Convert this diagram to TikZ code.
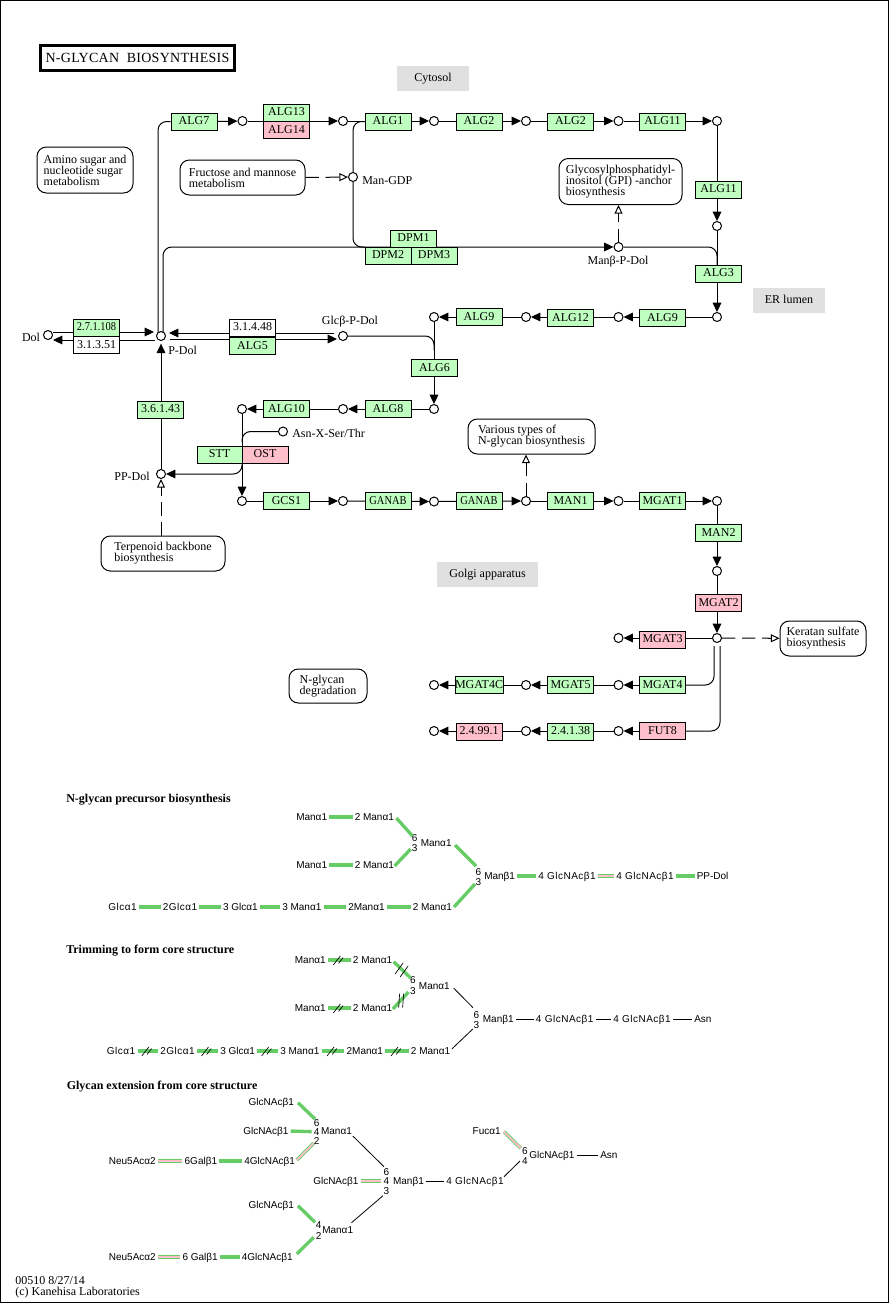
\documentclass[tikz,border=0pt]{standalone}
\usepackage{fontspec}
\setmainfont{Liberation Serif}
\newfontfamily\gfont{Liberation Sans}
\newfontfamily\narrowf[FakeStretch=0.87]{Liberation Serif}
\usetikzlibrary{arrows.meta,backgrounds}
\definecolor{enzgreen}{HTML}{BFFFBF}
\definecolor{enzpink}{HTML}{FFBFCB}
\definecolor{glygreen}{HTML}{66CC66}
\definecolor{glypink}{HTML}{FFBFCB}
\definecolor{compgray}{HTML}{E0E0E0}
\tikzset{
  base/.style={font=\fontsize{9}{8.25}\selectfont},
  enzbox/.style={base,draw=black,line width=.75pt,minimum width=34.5pt,minimum height=12.75pt,inner sep=0pt,text height=5pt,text depth=0pt},
  eg/.style={enzbox,fill=enzgreen},
  ep/.style={enzbox,fill=enzpink},
  ew/.style={enzbox,fill=white},
  tight/.style={font=\narrowf\fontsize{9}{8.25}\selectfont},
  cpd/.style={circle,draw=black,fill=white,line width=.75pt,minimum size=6.75pt,inner sep=0pt},
  mapbox/.style={base,draw=black,fill=white,line width=.75pt,rounded corners=7pt,align=left,inner sep=0pt},
  comp/.style={base,fill=compgray,inner sep=0pt,text height=5pt,text depth=0pt},
  lbl/.style={base,inner sep=0pt},
  conn/.style={draw=black,line width=.75pt},
  arr/.style={conn,-{Triangle[length=7pt,width=6.5pt]}},
  elbow/.style={rounded corners=6.5pt},
  dsh/.style={conn,dash pattern=on 10pt off 5pt,-{Triangle[open,fill=white,length=6.5pt,width=6pt]}},
  gt/.style={font=\gfont\fontsize{7.5}{8}\selectfont,inner sep=0pt,text height=5.5pt,text depth=0.5pt},
  gl/.style={gt,anchor=west},
  glw/.style={gl,font=\gfont\fontsize{7.5}{8}\selectfont\addfontfeatures{LetterSpace=5}},
  gh/.style={gt,font=\bfseries\fontsize{9}{9}\selectfont,anchor=west},
  gg/.style={draw=glygreen,line width=2.5pt,shorten <=1.5pt,shorten >=1.5pt},
  gd/.style={draw=glygreen,line width=2.5pt},
  gp/.style={draw=glygreen,line width=.6pt,double=glypink,double distance=1.4pt,shorten <=1.5pt,shorten >=1.5pt},
  gpd/.style={draw=glygreen,line width=.6pt,double=glypink,double distance=1.4pt},
  gb/.style={draw=black,line width=.75pt,shorten <=1.5pt,shorten >=1.5pt},
  gbd/.style={draw=black,line width=.6pt},
  pics/cutmark/.style={code={\draw[black,line width=.5pt] (-6,5)--(1,-4) (-2,5)--(5,-4);}},
  pics/cutmarkb/.style={code={\draw[black,line width=.5pt] (-2,7)--(-1,-7) (2,7)--(3,-7);}},
  pics/cutmarkc/.style={code={\draw[black,line width=.5pt] (-7,4)--(1,-7) (-2,7)--(6,-4);}},
}
\begin{document}
\begin{tikzpicture}[x=0.75pt,y=-0.75pt]
\useasboundingbox (0,0) rectangle (889,1303);
% title
\node[base,draw=black,line width=2.25pt,minimum width=145.5pt,minimum height=18.75pt,inner sep=0pt,font=\fontsize{10.5}{11}\selectfont\addfontfeatures{LetterSpace=2}] (title) at (137.5,58) {N-GLYCAN\ \ BIOSYNTHESIS};
% compartments
\node[comp,minimum width=54pt,minimum height=18.75pt] (cyt) at (433,78.5) {Cytosol};
\node[comp,minimum width=54pt,minimum height=18.75pt] (erl) at (789,300.5) {ER lumen};
\node[comp,minimum width=75.75pt,minimum height=18.75pt] (gol) at (487.5,574.5) {Golgi apparatus};
% pathway maps
\node[mapbox,minimum width=72pt,minimum height=34.5pt] (amino) at (85,170) {Amino sugar and\\nucleotide sugar\\metabolism};
\node[mapbox,minimum width=93.75pt,minimum height=26.25pt] (fruct) at (242.5,177.5) {Fructose and mannose\\metabolism};
\node[mapbox,minimum width=92.25pt,minimum height=34.5pt] (gpi) at (620.5,181.5) {Glycosylphosphatidyl-\\inositol (GPI) -anchor\\biosynthesis};
\node[mapbox,minimum width=95.25pt,minimum height=26.25pt] (various) at (531.5,436.5) {Various types of\\N-glycan biosynthesis};
\node[mapbox,minimum width=93pt,minimum height=26.25pt] (terp) at (163,553.5) {Terpenoid backbone\\biosynthesis};
\node[mapbox,minimum width=64.5pt,minimum height=26.25pt] (kerat) at (823,638.5) {Keratan sulfate\\biosynthesis};
\node[mapbox,minimum width=58.5pt,minimum height=25.5pt] (degr) at (328,686) {N-glycan\\degradation};
% enzymes
\node[eg] (alg7) at (194,121.5) {ALG7};
\node[eg] (alg13) at (286.5,112.5) {ALG13};
\node[ep] (alg14) at (286.5,130) {ALG14};
\node[eg] (alg1) at (388,121.5) {ALG1};
\node[eg] (alg2a) at (479,121.5) {ALG2};
\node[eg] (alg2b) at (570.5,121.5) {ALG2};
\node[eg] (alg11a) at (662.5,121.5) {ALG11};
\node[eg] (alg11b) at (718.5,189.5) {ALG11};
\node[eg] (alg3) at (718.5,273.5) {ALG3};
\node[eg] (alg9a) at (662.5,318) {ALG9};
\node[eg] (alg12) at (570.5,318) {ALG12};
\node[eg] (alg9b) at (479,317) {ALG9};
\node[eg] (dpm1) at (413.5,238.5) {DPM1};
\node[eg] (dpm2) at (388,255.5) {DPM2};
\node[eg] (dpm3) at (434,255.5) {DPM3};
\node[eg,tight] (e27) at (96.5,327.5) {2.7.1.108};
\node[ew] (e31) at (96.5,345) {3.1.3.51};
\node[ew] (e314) at (252.5,327.5) {3.1.4.48};
\node[eg] (alg5) at (252.5,346) {ALG5};
\node[eg] (alg6) at (434.5,368) {ALG6};
\node[eg] (alg8) at (388,409) {ALG8};
\node[eg] (alg10) at (286.5,409) {ALG10};
\node[eg] (e36) at (160.5,409.5) {3.6.1.43};
\node[eg,minimum width=33.75pt] (stt) at (219.5,454.5) {STT};
\node[ep] (ost) at (265,454.5) {OST};
\node[eg] (gcs1) at (286.5,501) {GCS1};
\node[eg,tight] (ganaba) at (388,501) {GANAB};
\node[eg,tight] (ganabb) at (479,501) {GANAB};
\node[eg] (man1) at (570.5,501) {MAN1};
\node[eg] (mgat1) at (662.5,501) {MGAT1};
\node[eg] (man2) at (718.5,533) {MAN2};
\node[ep] (mgat2) at (718.5,603) {MGAT2};
\node[ep] (mgat3) at (662.5,639.5) {MGAT3};
\node[eg] (mgat4) at (662.5,685) {MGAT4};
\node[eg] (mgat5) at (570.5,685) {MGAT5};
\node[eg] (mgat4c) at (479,685) {MGAT4C};
\node[ep] (fut8) at (662.5,731) {FUT8};
\node[eg] (e2438) at (570.5,731.5) {2.4.1.38};
\node[ep] (e2499) at (479,731.5) {2.4.99.1};
% compounds
\foreach \n/\x/\y in {c1/242.5/121,c2/343/121,c3/434/121,c4/526/121,c5/618.5/121,c6/717/121,c7/717/226,c8/717/317,c9/618.5/317,c10/526/317,c11/434/317,c12/434/409,c13/343/409,c14/242/409,c15/242/501,c16/343/501,c17/434/501.5,c18/526/501,c19/618.5/501,c20/717/501,c21/717/571,c22/717/638,c23/618.5/638,c24/618.5/685,c25/526/685,c26/434/685,c27/618.5/731,c28/526/731,c29/434/731,man/353/177,manb/618.5/247,pdol/161/336,dol/48/335,glc/343/336,asn/283/431.5,ppdol/161/474}{\node[cpd] (\n) at (\x,\y) {};}
% compound labels
\node[lbl] (ldol) at (31,337) {Dol};
\node[lbl,anchor=west] (lman) at (362,181) {Man-GDP};
\node[lbl] (lmanb) at (618,262) {Manβ-P-Dol};
\node[lbl] (lglc) at (350,322) {Glcβ-P-Dol};
\node[lbl,anchor=west] (lpdol) at (168,350) {P-Dol};
\node[lbl] (lppdol) at (132,476) {PP-Dol};
\node[lbl,anchor=west] (lasn) at (292,433) {Asn-X-Ser/Thr};
% free ends
\coordinate (pa) at (158,332); \coordinate (pb) at (163,332);
\coordinate (manj) at (365,247);
\coordinate (alg3t) at (717,265);
\coordinate (dr1) at (53,332); \coordinate (dr2) at (154,332);
\coordinate (dl1) at (155,340); \coordinate (dl2) at (53,340);
\coordinate (gl1) at (334,333); \coordinate (gl2) at (169,333);
\coordinate (gr1) at (170,339); \coordinate (gr2) at (337,339);
\coordinate (glcj) at (434,350);
\coordinate (asnj) at (242,442);
\coordinate (ostj) at (242,463);
\coordinate (k1) at (714,646); \coordinate (k2) at (720,646);
\begin{scope}[on background layer]
\draw[arr] (alg7.east) -- (c1);
\draw[arr] (c1) -- (c2);
\draw[arr] (c2) -- (c3);
\draw[arr] (c3) -- (c4);
\draw[arr] (c4) -- (c5);
\draw[arr] (c5) -- (c6);
\draw[arr] (c6) -- (c7);
\draw[arr] (c7) -- (c8);
\draw[arr] (c8) -- (c9);
\draw[arr] (c9) -- (c10);
\draw[arr] (c10) -- (c11);
\draw[arr] (c11) -- (c12);
\draw[arr] (c12) -- (c13);
\draw[arr] (c13) -- (c14);
\draw[arr] (c14) -- (c15);
\draw[arr] (c15) -- (c16);
\draw[arr] (c16) -- (c17);
\draw[arr] (c17) -- (c18);
\draw[arr] (c18) -- (c19);
\draw[arr] (c19) -- (c20);
\draw[arr] (c20) -- (c21);
\draw[arr] (c21) -- (c22);
\draw[arr] (c22) -- (c23);
\draw[arr] (mgat4.west) -- (c24);
\draw[arr] (c24) -- (c25);
\draw[arr] (c25) -- (c26);
\draw[arr] (fut8.west) -- (c27);
\draw[arr] (c27) -- (c28);
\draw[arr] (c28) -- (c29);
\draw[conn,elbow] (k1) |- (mgat4.east);
\draw[conn,elbow] (k2) |- (fut8.east);
\draw[conn,elbow] (pa) |- (alg7.west);
\draw[arr,elbow] (pb) |- (manb);
\draw[conn,elbow] (alg1.west) -| (man.north);
\draw[conn,elbow] (man.south) |- (manj);
\draw[conn,elbow] (manb.east) -| (alg3t);
\draw[dsh] (fruct.east) -- (man);
\draw[dsh] (manb) -- (manb |- gpi.south);
\draw[dsh] (c18) -- (c18 |- various.south);
\draw[dsh] (ppdol |- terp.north) -- (ppdol);
\draw[dsh] (c22) -- (kerat);
\draw[arr] (dr1) -- (dr2);
\draw[arr] (dl1) -- (dl2);
\draw[arr] (gl1) -- (gl2);
\draw[arr] (gr1) -- (gr2);
\draw[conn,elbow] (glc.east) -| (glcj);
\draw[arr,shorten >=2pt] (ppdol) -- (pdol);
\draw[conn,elbow] (asn.west) -| (asnj);
\draw[arr,elbow] (ostj) |- (ppdol);
\end{scope}
% ---- glycan 1
\node[gh] (h1) at (66,799) {N-glycan precursor biosynthesis};
\node[gl] (a1) at (296,817) {Manα1};
\node[gl] (a2) at (354.5,817) {2 Manα1};
\node[gl] (a3) at (296,865) {Manα1};
\node[gl] (a4) at (354.5,865) {2 Manα1};
\node[gt] (a5) at (414.7,838) {6};
\node[gt] (a6) at (414.7,848) {3};
\node[gl] (a7) at (420.5,843) {Manα1};
\node[gt] (a8) at (478.5,872) {6};
\node[gt] (a9) at (478.5,882) {3};
\node[gl] (a10) at (484,876) {Manβ1};
\node[glw] (a11) at (538,876) {4 GlcNAcβ1};
\node[glw] (a12) at (616,876) {4 GlcNAcβ1};
\node[gl] (a13) at (696.5,876) {PP-Dol};
\node[glw] (a14) at (108,907) {Glcα1};
\node[glw] (a15) at (162.5,907) {2Glcα1};
\node[gl] (a16) at (222.8,907) {3 Glcα1};
\node[gl] (a17) at (282,907) {3 Manα1};
\node[gl] (a18) at (348,907) {2Manα1};
\node[gl] (a19) at (412.5,907) {2 Manα1};
\draw[gg] (a1.east) -- (a2.west);
\draw[gg] (a3.east) -- (a4.west);
\draw[gg] (a10.east) -- (a11.west);
\draw[gp] (a11.east) -- (a12.west);
\draw[gg] (a12.east) -- (a13.west);
\draw[gg] (a14.east) -- (a15.west);
\draw[gg] (a15.east) -- (a16.west);
\draw[gg] (a16.east) -- (a17.west);
\draw[gg] (a17.east) -- (a18.west);
\draw[gg] (a18.east) -- (a19.west);
\coordinate (ad1) at (396.4,818); \coordinate (ad2) at (412.5,836);
\coordinate (ad3) at (394.6,866); \coordinate (ad4) at (410.7,849);
\coordinate (ad5) at (455,845); \coordinate (ad6) at (476,866);
\coordinate (ad7) at (454,907); \coordinate (ad8) at (475,884);
\draw[gd] (ad1) -- (ad2);
\draw[gd] (ad3) -- (ad4);
\draw[gd] (ad5) -- (ad6);
\draw[gd] (ad7) -- (ad8);
% ---- glycan 2
\node[gh] (h2) at (66,950) {Trimming to form core structure};
\node[gl] (b1) at (294.6,960) {Manα1};
\node[gl] (b2) at (352.7,960) {2 Manα1};
\node[gl] (b3) at (294.6,1008) {Manα1};
\node[gl] (b4) at (352.7,1008) {2 Manα1};
\node[gt] (b5) at (413,980.5) {6};
\node[gt] (b6) at (413,991) {3};
\node[gl] (b7) at (418.7,986) {Manα1};
\node[gt] (b8) at (476.3,1015) {6};
\node[gt] (b9) at (476.3,1025) {3};
\node[gl] (b10) at (482.6,1019) {Manβ1};
\node[glw] (b11) at (535.7,1019) {4 GlcNAcβ1};
\node[glw] (b12) at (613,1019) {4 GlcNAcβ1};
\node[gl] (b13) at (694,1019) {Asn};
\node[glw] (b14) at (106.7,1051) {Glcα1};
\node[glw] (b15) at (160,1051) {2Glcα1};
\node[gl] (b16) at (220,1051) {3 Glcα1};
\node[gl] (b17) at (280,1051) {3 Manα1};
\node[gl] (b18) at (346.4,1051) {2Manα1};
\node[gl] (b19) at (410.7,1051) {2 Manα1};
\draw[gg] (b1.east) -- pic[midway]{cutmark} (b2.west);
\draw[gg] (b3.east) -- pic[midway]{cutmark} (b4.west);
\draw[gg] (b14.east) -- pic[midway]{cutmark} (b15.west);
\draw[gg] (b15.east) -- pic[midway]{cutmark} (b16.west);
\draw[gg] (b16.east) -- pic[midway]{cutmark} (b17.west);
\draw[gg] (b17.east) -- pic[midway]{cutmark} (b18.west);
\draw[gg] (b18.east) -- pic[midway]{cutmark} (b19.west);
\draw[gb] (b10.east) -- (b11.west);
\draw[gb] (b11.east) -- (b12.west);
\draw[gb] (b12.east) -- (b13.west);
\coordinate (bd1) at (393.7,961.7); \coordinate (bd2) at (410.7,978);
\coordinate (bd3) at (392.8,1009); \coordinate (bd4) at (408.5,992);
\coordinate (bd5) at (453.6,988); \coordinate (bd6) at (473,1007.7);
\coordinate (bd7) at (451.8,1049); \coordinate (bd8) at (472.8,1029);
\draw[gd] (bd1) -- pic[midway]{cutmarkc} (bd2);
\draw[gd] (bd3) -- pic[midway]{cutmarkb} (bd4);
\draw[gbd] (bd5) -- (bd6);
\draw[gbd] (bd7) -- (bd8);
% ---- glycan 3
\node[gh] (h3) at (66.5,1086) {Glycan extension from core structure};
\node[gl] (d1) at (248.4,1101.7) {GlcNAcβ1};
\node[gl] (d2) at (243,1131) {GlcNAcβ1};
\node[gl] (d3) at (244,1161) {4GlcNAcβ1};
\node[gl] (d4) at (184.4,1161) {6Galβ1};
\node[gl] (d5) at (108.6,1161) {Neu5Acα2};
\node[gt] (d6) at (316.6,1122.7) {6};
\node[gt] (d7) at (316.6,1131.7) {4};
\node[gt] (d8) at (316.6,1141) {2};
\node[gl] (d9) at (320.8,1131) {Manα1};
\node[gl] (d10) at (313,1181) {GlcNAcβ1};
\node[gt] (d11) at (386.5,1171.7) {6};
\node[gt] (d12) at (386.5,1181) {4};
\node[gt] (d13) at (386.5,1190.7) {3};
\node[gl] (d14) at (392.8,1181) {Manβ1};
\node[glw] (d15) at (446,1181) {4 GlcNAcβ1};
\node[gt] (d16) at (525,1151) {6};
\node[gt] (d17) at (525,1161) {4};
\node[gl] (d18) at (529,1155) {GlcNAcβ1};
\node[gl] (d19) at (600,1155) {Asn};
\node[gl] (d20) at (472.4,1130.7) {Fucα1};
\node[gl] (d21) at (248.4,1205) {GlcNAcβ1};
\node[gt] (d22) at (318.7,1225) {4};
\node[gt] (d23) at (318.7,1235.7) {2};
\node[gl] (d24) at (322,1230) {Manα1};
\node[gl] (d25) at (108.6,1257) {Neu5Acα2};
\node[gl] (d26) at (182.3,1257) {6 Galβ1};
\node[gl] (d27) at (241.6,1257) {4GlcNAcβ1};
\draw[gg] (d2.east) -- (d7.west);
\draw[gg] (d4.east) -- (d3.west);
\draw[gp] (d5.east) -- (d4.west);
\draw[gp] (d10.east) -- (d12.west);
\draw[gb] (d14.east) -- (d15.west);
\draw[gb] (d18.east) -- (d19.west);
\draw[gp] (d25.east) -- (d26.west);
\draw[gg] (d26.east) -- (d27.west);
\coordinate (dd1) at (298,1102.7); \coordinate (dd2) at (315,1119);
\coordinate (dd3) at (296.8,1160); \coordinate (dd4) at (313.6,1143.3);
\coordinate (dd5) at (352.8,1136); \coordinate (dd6) at (384,1166.7);
\coordinate (dd7) at (504,1176.7); \coordinate (dd8) at (520,1161);
\coordinate (dd9) at (504,1131.7); \coordinate (dd10) at (520.8,1148.3);
\coordinate (dd11) at (298,1205.7); \coordinate (dd12) at (315,1222.3);
\coordinate (dd13) at (351.5,1222.7); \coordinate (dd14) at (383,1195.7);
\coordinate (dd15) at (296.8,1254); \coordinate (dd16) at (313.6,1237.3);
\draw[gd] (dd1) -- (dd2);
\draw[gpd] (dd3) -- (dd4);
\draw[gbd] (dd5) -- (dd6);
\draw[gbd] (dd7) -- (dd8);
\draw[gpd] (dd9) -- (dd10);
\draw[gd] (dd11) -- (dd12);
\draw[gbd] (dd13) -- (dd14);
\draw[gd] (dd15) -- (dd16);
% footer
\node[lbl,anchor=west,text height=6pt] (f1) at (15,1281) {00510 8/27/14};
\node[lbl,anchor=west,text height=6pt] (f2) at (15,1293) {(c) Kanehisa Laboratories};
% frame
\draw[black,line width=.9pt] (0.6,0.6) rectangle (888.2,1302.4);
\end{tikzpicture}
\end{document}
